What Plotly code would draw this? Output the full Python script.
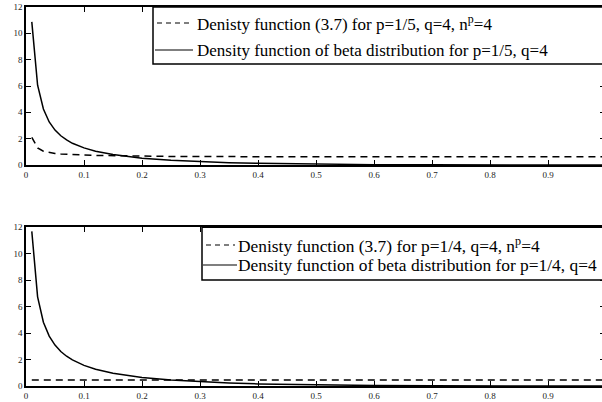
import plotly.graph_objects as go

# ---- data ----
x_vals = [0.01, 0.02, 0.03, 0.04, 0.05, 0.06, 0.07, 0.08, 0.10, 0.12, 0.15,
          0.20, 0.25, 0.30, 0.35, 0.40, 0.50, 0.60, 0.70, 0.80, 0.90, 1.00]

# top panel (p=1/5, q=4)
dens37_p15 = [2.10, 1.30, 1.05, 0.95, 0.88, 0.84, 0.81, 0.79, 0.76, 0.73, 0.70,
              0.67, 0.65, 0.64, 0.63, 0.63, 0.63, 0.62, 0.62, 0.62, 0.62, 0.62]
beta_p15 = [10.87, 6.06, 4.25, 3.27, 2.65, 2.22, 1.90, 1.65, 1.30, 1.05, 0.79,
            0.52, 0.36, 0.25, 0.18, 0.13, 0.061, 0.027, 0.010, 0.003, 0.0003, 0.0]

# bottom panel (p=1/4, q=4)
dens37_p14 = [0.45, 0.45, 0.45, 0.45, 0.45, 0.45, 0.45, 0.45, 0.45, 0.45, 0.45,
              0.45, 0.45, 0.45, 0.45, 0.45, 0.45, 0.45, 0.45, 0.45, 0.45, 0.45]
beta_p14 = [11.69, 6.74, 4.82, 3.77, 3.09, 2.61, 2.25, 1.97, 1.56, 1.27, 0.97,
            0.65, 0.45, 0.32, 0.23, 0.16, 0.080, 0.036, 0.013, 0.004, 0.0004, 0.0]

x_ticks = [0, 0.1, 0.2, 0.3, 0.4, 0.5, 0.6, 0.7, 0.8, 0.9]
x_ticktext = ["0", "0.1", "0.2", "0.3", "0.4", "0.5", "0.6", "0.7", "0.8", "0.9"]
y_ticks = [0, 2, 4, 6, 8, 10, 12]

legend_top = ["Denisty function (3.7) for p=1/5, q=4, n<sup>p</sup>=4",
              "Density function of beta distribution for p=1/5, q=4"]
legend_bot = ["Denisty function (3.7) for p=1/4, q=4, n<sup>p</sup>=4",
              "Density function of beta distribution for p=1/4, q=4"]

FONT = "Liberation Serif, Times New Roman, serif"
DASH = "7px,5px"

W, H = 602, 402
ML, MR, MT, MB = 26, 0, 7, 16
PW, PH = W - ML - MR, H - MT - MB


def pxx(px):
    return (px - ML) / PW


def pxy(py):
    return (H - MB - py) / PH


fig = go.Figure()
line_solid = dict(color="black", width=1.5)
line_dash = dict(color="black", width=1.5, dash=DASH)

fig.add_trace(go.Scatter(x=x_vals, y=dens37_p15, mode="lines", line=line_dash,
                         xaxis="x", yaxis="y", showlegend=False))
fig.add_trace(go.Scatter(x=x_vals, y=beta_p15, mode="lines", line=line_solid,
                         xaxis="x", yaxis="y", showlegend=False))
fig.add_trace(go.Scatter(x=x_vals, y=dens37_p14, mode="lines", line=line_dash,
                         xaxis="x2", yaxis="y2", showlegend=False))
fig.add_trace(go.Scatter(x=x_vals, y=beta_p14, mode="lines", line=line_solid,
                         xaxis="x2", yaxis="y2", showlegend=False))
# invisible traces for right-side tick axes
fig.add_trace(go.Scatter(x=[None], y=[None], xaxis="x", yaxis="y3", showlegend=False))
fig.add_trace(go.Scatter(x=[None], y=[None], xaxis="x2", yaxis="y4", showlegend=False))

xr = [0, PW / 580 * 1.0]
top_dom = [pxy(165), 1.0]
bot_dom = [0.0, pxy(227.3)]

xcommon = dict(range=xr, tickvals=x_ticks, ticktext=x_ticktext, ticks="inside",
               ticklen=5, tickcolor="black", showline=True, linecolor="black",
               linewidth=1.5, mirror="ticks", showgrid=False, zeroline=False,
               tickfont=dict(family=FONT, size=9, color="#222"))
ycommon = dict(range=[0, 12], tickvals=y_ticks, ticks="inside", ticklen=5,
               tickcolor="black", showline=True, linecolor="black", linewidth=1.5,
               mirror=False, showgrid=False, zeroline=False,
               tickfont=dict(family=FONT, size=9, color="#222"))
yright = dict(range=[0, 12], tickvals=y_ticks, ticks="inside", ticklen=2,
              tickcolor="black", showline=False, showticklabels=False,
              showgrid=False, zeroline=False, side="right")

fig.update_layout(
    width=W, height=H,
    margin=dict(l=ML, r=MR, t=MT, b=MB, pad=0),
    paper_bgcolor="white", plot_bgcolor="white",
    xaxis=dict(domain=[0, 1], anchor="y", **xcommon),
    yaxis=dict(domain=top_dom, anchor="x", **ycommon),
    xaxis2=dict(domain=[0, 1], anchor="y2", **xcommon),
    yaxis2=dict(domain=bot_dom, anchor="x2", **ycommon),
    yaxis3=dict(overlaying="y", anchor="x", **yright),
    yaxis4=dict(overlaying="y2", anchor="x2", **yright),
)

shapes = []
annots = []


def add_legend(box, rows, texts, fsize):
    x0, y0, y1 = box
    shapes.append(dict(type="rect", xref="paper", yref="paper",
                       x0=pxx(x0), x1=pxx(W + 20), y0=pxy(y1), y1=pxy(y0),
                       line=dict(color="black", width=1.5), fillcolor="white",
                       layer="above"))
    for (sx0, sx1, sy, dashed, tx), t in zip(rows, texts):
        shapes.append(dict(type="line", xref="paper", yref="paper",
                           x0=pxx(sx0), x1=pxx(sx1), y0=pxy(sy), y1=pxy(sy),
                           line=dict(color="black", width=1.2,
                                     dash=("5px,4px" if dashed else "solid")),
                           layer="above"))
        annots.append(dict(xref="paper", yref="paper", x=pxx(tx), y=pxy(sy),
                           xanchor="left", yanchor="middle", showarrow=False,
                           text=t, font=dict(family=FONT, size=fsize, color="black")))


add_legend((153, 7, 64),
           [(157, 190, 23, True, 195), (155, 193, 50, False, 195)], legend_top, 17)
add_legend((202, 227.3, 280),
           [(206, 235, 245, True, 236), (203, 237, 265, False, 236)], legend_bot, 17.4)

fig.update_layout(shapes=shapes, annotations=annots)

fig.write_html(
    "out.html",
    config={"displayModeBar": False},
    post_script="document.body.style.margin='0';document.body.style.overflow='hidden';",
)
